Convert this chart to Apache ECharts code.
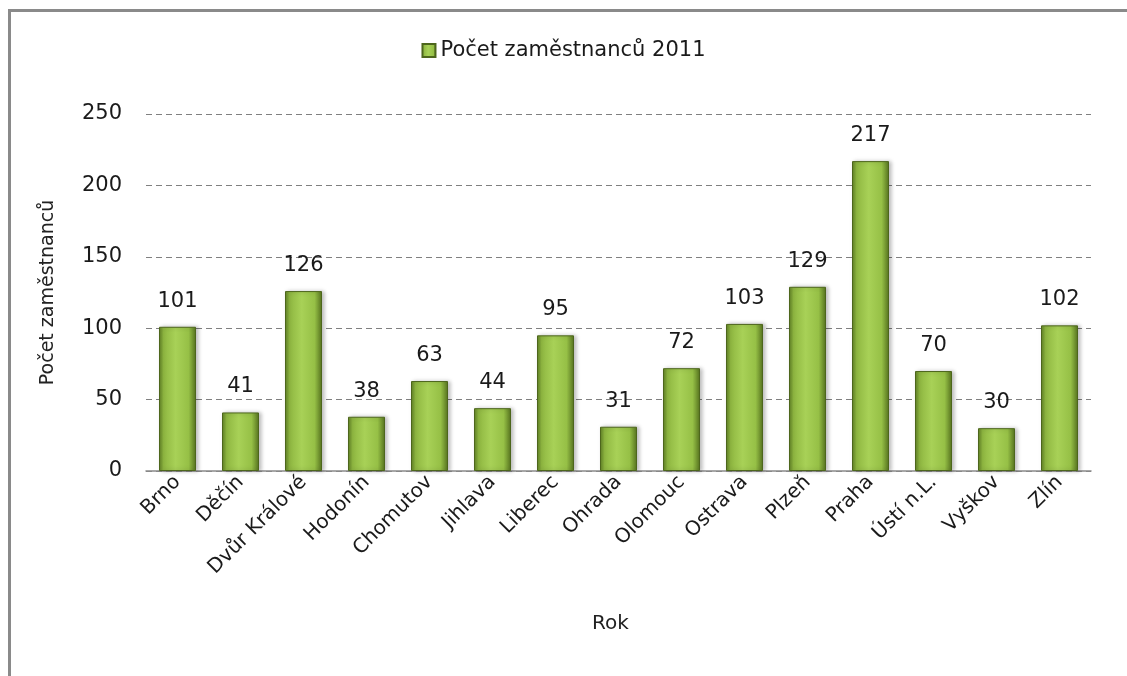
<!DOCTYPE html>
<html>
<head>
<meta charset="utf-8">
<script src="https://cdn.jsdelivr.net/npm/echarts@6/dist/echarts.min.js"></script>
<style>
  html, body { margin: 0; padding: 0; background: #fff; }
  #frame { position: absolute; left: 8px; top: 9px; width: 1130px; height: 680px; border-left: 3px solid #8a8a8a; border-top: 3px solid #8a8a8a; }
  #chart { position: absolute; left: 0; top: 0; width: 1127px; height: 676px; }
</style>
</head>
<body>
<div id="frame"></div>
<div id="chart"></div>
<script>
document.addEventListener("DOMContentLoaded", () => {
    // mesta a pocty zamestnancu
    const cities = ['Brno', 'Děčín', 'Dvůr Králové', 'Hodonín', 'Chomutov', 'Jihlava', 'Liberec', 'Ohrada', 'Olomouc', 'Ostrava', 'Plzeň', 'Praha', 'Ústí n.L.', 'Vyškov', 'Zlín'];
    const employees2011 = [101, 41, 126, 38, 63, 44, 95, 31, 72, 103, 129, 217, 70, 30, 102];
    const yTicks = [0, 50, 100, 150, 200, 250];

    const font = '"DejaVu Sans", sans-serif';

    const barColor = {
        type: 'linear', x: 0, y: 0, x2: 1, y2: 0,
        colorStops: [
            { offset: 0, color: '#5f7f24' },
            { offset: 0.12, color: '#8fb741' },
            { offset: 0.45, color: '#a8d157' },
            { offset: 0.8, color: '#96c046' },
            { offset: 1, color: '#56731f' }
        ]
    };

    echarts.init(document.getElementById('chart')).setOption({
        animation: false,
        legend: {
            top: 35,
            left: 'center',
            itemWidth: 13,
            itemHeight: 13,
            itemGap: 8,
            textStyle: { fontFamily: font, fontSize: 21, color: '#1a1a1a' },
            data: [{ name: 'Počet zaměstnanců 2011', icon: 'rect' }]
        },
        grid: { left: 146, right: 36, top: 114, bottom: 205 },
        xAxis: {
            type: 'category',
            data: cities,
            name: 'Rok',
            nameLocation: 'middle',
            nameGap: 143,
            nameTextStyle: { fontFamily: font, fontSize: 20, color: '#222', padding: [0, 16, 0, 0] },
            axisLine: { lineStyle: { color: '#8a8a8a', width: 1.5 } },
            axisTick: { show: false },
            axisLabel: { rotate: 45, interval: 0, margin: 8, fontFamily: font, fontSize: 20, color: '#1a1a1a' }
        },
        yAxis: {
            type: 'value',
            min: yTicks[0],
            max: yTicks[yTicks.length - 1],
            interval: 50,
            name: 'Počet zaměstnanců',
            nameLocation: 'middle',
            nameGap: 88,
            nameTextStyle: { fontFamily: font, fontSize: 19, color: '#222' },
            axisLine: { show: false },
            axisTick: { show: false },
            axisLabel: { margin: 24, fontFamily: font, fontSize: 21, color: '#1a1a1a' },
            splitLine: { lineStyle: { color: '#808080', type: [6, 4], width: 1.2 } }
        },
        series: [{
            name: 'Počet zaměstnanců 2011',
            type: 'bar',
            data: employees2011,
            barWidth: 37,
            itemStyle: { color: barColor, borderColor: '#4d661c', borderWidth: 1, shadowColor: 'rgba(0,0,0,0.25)', shadowBlur: 4, shadowOffsetX: 2 },
            label: { show: true, position: 'top', distance: 15, fontFamily: font, fontSize: 21, color: '#1a1a1a' }
        }]
    });
});
</script>
</body>
</html>
